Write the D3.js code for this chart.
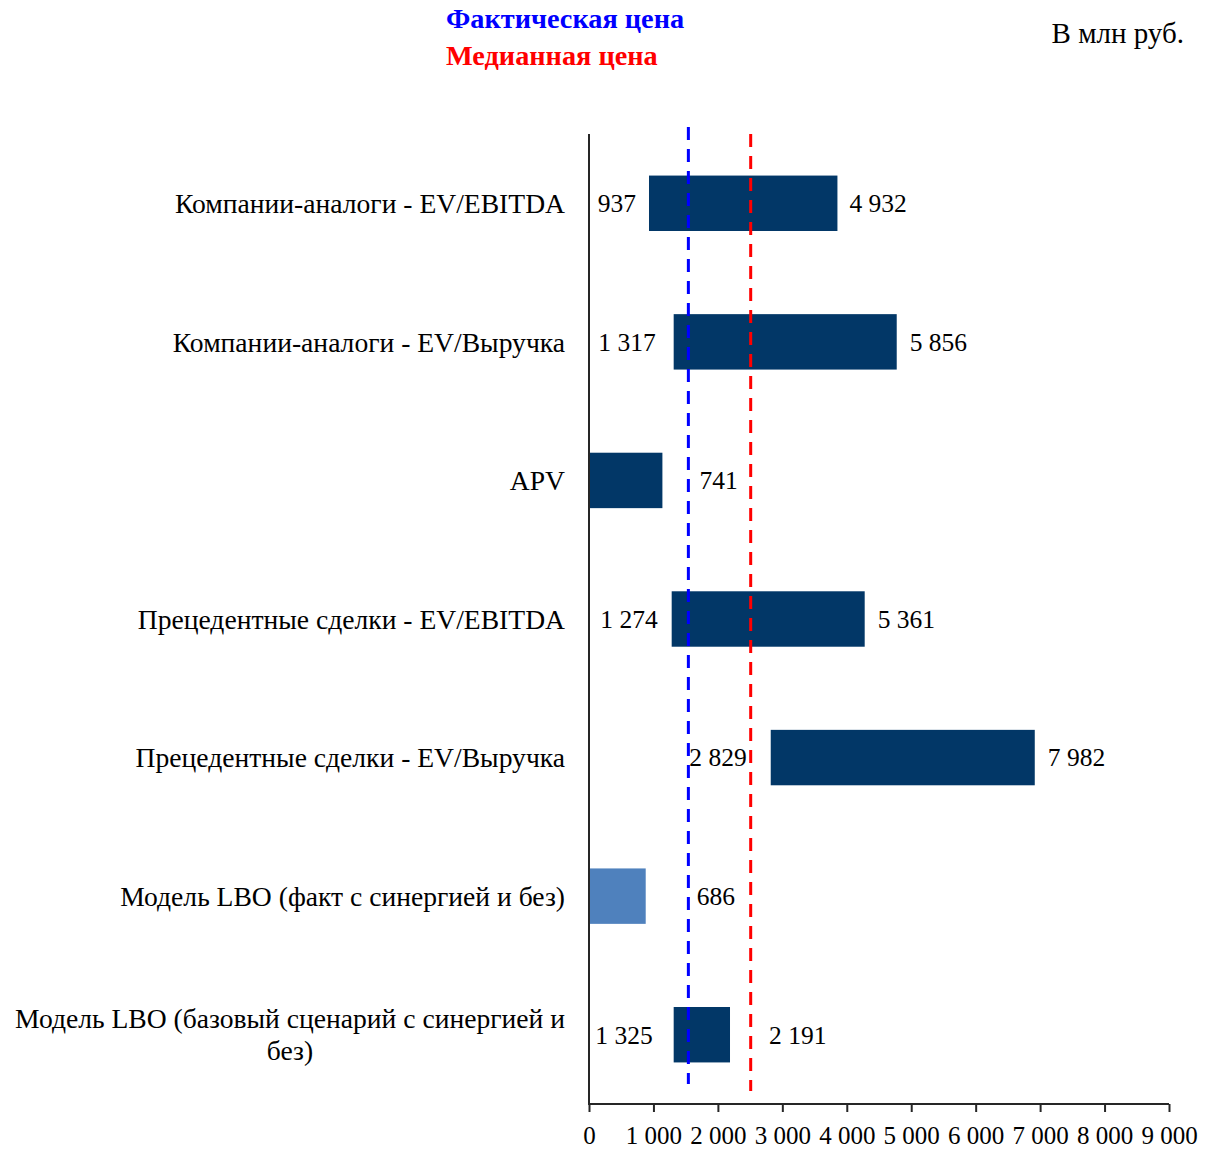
<!DOCTYPE html>
<html>
<head>
<meta charset="utf-8">
<script src="https://cdn.jsdelivr.net/npm/d3@7"></script>
<style>
  body { margin: 0; background: #fff; }
  text { font-family: 'Liberation Serif', 'Times New Roman', serif; fill: #000; }
</style>
</head>
<body>
<div id="chart"></div>
<script>
var categories = [
  'Компании-аналоги - EV/EBITDA',
  'Компании-аналоги - EV/Выручка',
  'APV',
  'Прецедентные сделки - EV/EBITDA',
  'Прецедентные сделки - EV/Выручка',
  'Модель LBO (факт с синергией и без)',
  'Модель LBO (базовый сценарий с синергией и|без)'
]

// bar extents as drawn on the chart
var barStart = [931, 1314, 0, 1283, 2820, 0, 1314]
var barEnd = [3855, 4775, 1139, 4278, 6917, 880, 2188]

// data labels as printed
var lowLabels = ['937', '1 317', '', '1 274', '2 829', '', '1 325']
var highLabels = ['4 932', '5 856', '741', '5 361', '7 982', '686', '2 191']

var actualPrice = 1542
var medianPrice = 2509

var xTicks = [0, 1000, 2000, 3000, 4000, 5000, 6000, 7000, 8000, 9000]

// label offsets from the bar ends (px)
var lowGap = [13, 18, 0, 14, 24, 0, 21]
var highGap = [12, 13, 37, 13, 13, 51, 39]

var barColor = ['#023767', '#023767', '#023767', '#023767', '#023767', '#4f81bd', '#023767']

var margin = { top: 134, left: 589, right: 44, bottom: 45 }

var svg = d3
  .select('#chart')
  .append('svg')
  .attr('width', 1213)
  .attr('height', 1149)

var g = svg
  .append('g')
  .attr('transform', 'translate(' + margin.left + ',' + margin.top + ')')

var xScale = d3.scaleLinear().domain([0, 9000]).range([0, 580])

var yScale = d3
  .scaleBand()
  .domain(d3.range(categories.length))
  .range([0, 970])
  .paddingInner(0.6)
  .paddingOuter(0.3)

// bars
g.selectAll('.bar')
  .data(categories)
  .enter()
  .append('rect')
  .attr('class', 'bar')
  .attr('x', (d, i) => xScale(barStart[i]))
  .attr('y', (d, i) => yScale(i))
  .attr('width', (d, i) => xScale(barEnd[i]) - xScale(barStart[i]))
  .attr('height', yScale.bandwidth())
  .attr('fill', (d, i) => barColor[i])

// reference lines
g.append('line')
  .attr('x1', xScale(actualPrice))
  .attr('x2', xScale(actualPrice))
  .attr('y1', -7)
  .attr('y2', 950)
  .attr('stroke', '#0000ff')
  .attr('stroke-width', 3)
  .attr('stroke-dasharray', '13,9')

g.append('line')
  .attr('x1', xScale(medianPrice))
  .attr('x2', xScale(medianPrice))
  .attr('y1', 0)
  .attr('y2', 957)
  .attr('stroke', '#ff0000')
  .attr('stroke-width', 3)
  .attr('stroke-dasharray', '13,9')

// value labels
g.selectAll('.low-label')
  .data(lowLabels)
  .enter()
  .append('text')
  .attr('class', 'low-label')
  .attr('x', (d, i) => xScale(barStart[i]) - lowGap[i])
  .attr('y', (d, i) => yScale(i) + yScale.bandwidth() / 2)
  .attr('dy', '0.35em')
  .attr('text-anchor', 'end')
  .attr('font-size', 25.5)
  .text(d => d)

g.selectAll('.high-label')
  .data(highLabels)
  .enter()
  .append('text')
  .attr('class', 'high-label')
  .attr('x', (d, i) => xScale(barEnd[i]) + highGap[i])
  .attr('y', (d, i) => yScale(i) + yScale.bandwidth() / 2)
  .attr('dy', '0.35em')
  .attr('font-size', 25.5)
  .text(d => d)

// axes
var xAxis = d3
  .axisBottom(xScale)
  .tickValues(xTicks)
  .tickSize(8)
  .tickFormat(d => d3.format(',')(d).replace(/,/g, ' '))

var xg = g
  .append('g')
  .attr('transform', 'translate(0,970)')
  .call(xAxis)
xg.select('.domain').attr('stroke', '#262626').attr('stroke-width', 2).attr('d', 'M0,0H580')
xg.selectAll('.tick line').attr('stroke', '#262626').attr('stroke-width', 2)
xg.selectAll('.tick text')
  .attr('font-family', "'Liberation Serif', 'Times New Roman', serif")
  .attr('font-size', 25)
  .attr('fill', '#000')
  .attr('y', 22)
  .attr('dy', '0.71em')

g.append('line')
  .attr('x1', 0)
  .attr('x2', 0)
  .attr('y1', 0)
  .attr('y2', 971)
  .attr('stroke', '#262626')
  .attr('stroke-width', 2)

// category labels
categories.forEach(function(c, i) {
  var lines = c.split('|')
  var cy = yScale(i) + yScale.bandwidth() / 2
  var lineH = 32
  var first = g
    .append('text')
    .attr('x', -24)
    .attr('y', cy - ((lines.length - 1) * lineH) / 2)
    .attr('dy', '0.35em')
    .attr('text-anchor', 'end')
    .attr('font-size', 27.6)
    .text(lines[0])
  if (lines.length > 1) {
    var w = first.node().getComputedTextLength()
    for (var k = 1; k < lines.length; k++) {
      g.append('text')
        .attr('x', -24 - w / 2)
        .attr('y', cy - ((lines.length - 1) * lineH) / 2 + k * lineH)
        .attr('dy', '0.35em')
        .attr('text-anchor', 'middle')
        .attr('font-size', 27.6)
        .text(lines[k])
    }
  }
})

// legend / titles
svg.append('text')
  .attr('x', 446)
  .attr('y', 28)
  .attr('font-size', 28.3)
  .attr('font-weight', 700)
  .style('fill', '#0000ff')
  .text('Фактическая цена')

svg.append('text')
  .attr('x', 446)
  .attr('y', 65)
  .attr('font-size', 28.3)
  .attr('font-weight', 700)
  .style('fill', '#ff0000')
  .text('Медианная цена')

svg.append('text')
  .attr('x', 1184)
  .attr('y', 43)
  .attr('text-anchor', 'end')
  .attr('font-size', 29)
  .text('В млн руб.')
</script>
</body>
</html>
